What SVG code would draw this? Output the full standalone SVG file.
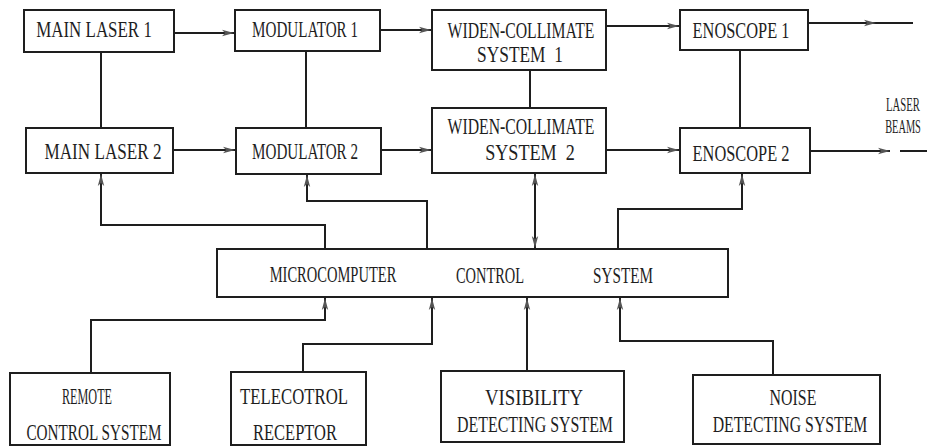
<svg xmlns="http://www.w3.org/2000/svg" width="938" height="447" viewBox="0 0 938 447">
<style>
.box{fill:#fff;stroke:#1e1e1e;stroke-width:2}
.c{fill:none;stroke:#1e1e1e;stroke-width:2}
text{font-family:"Liberation Serif","DejaVu Serif",serif;font-size:24px;fill:#1e1e1e;text-anchor:middle}
.s{font-size:18px}
</style>
<defs>
<marker id="ah" viewBox="0 0 12 8" refX="12" refY="4" markerWidth="12" markerHeight="8" markerUnits="userSpaceOnUse" orient="auto-start-reverse">
<path d="M0,0.8 L12,4 L0,7.2 L3,4z" fill="#555"/>
</marker>
</defs>
<rect width="938" height="447" fill="#fff"/>

<g id="connectors">
<path class="c" d="M174,33 H234" marker-end="url(#ah)"/>
<path class="c" d="M380,30 H431" marker-end="url(#ah)"/>
<path class="c" d="M606,26 H679" marker-end="url(#ah)"/>
<path class="c" d="M808,23 H876 H913" marker-mid="url(#ah)"/>
<path class="c" d="M173,150 H235" marker-end="url(#ah)"/>
<path class="c" d="M381,150 H431" marker-end="url(#ah)"/>
<path class="c" d="M606,150 H679" marker-end="url(#ah)"/>
<path class="c" d="M810,151 H890" marker-end="url(#ah)"/>
<path class="c" d="M900,151 H927"/>
<path class="c" d="M101,52 V128"/>
<path class="c" d="M306,51 V128"/>
<path class="c" d="M530,70 V108"/>
<path class="c" d="M740,50 V128"/>
<path class="c" d="M325,249 V225 H101 V174" marker-end="url(#ah)"/>
<path class="c" d="M427,249 V201 H307 V175" marker-end="url(#ah)"/>
<path class="c" d="M535,248 V174" marker-start="url(#ah)" marker-end="url(#ah)"/>
<path class="c" d="M618,249 V209 H742 V174" marker-end="url(#ah)"/>
<path class="c" d="M91,373 V320 H325 V298" marker-end="url(#ah)"/>
<path class="c" d="M303,372 V344 H432 V298" marker-end="url(#ah)"/>
<path class="c" d="M527,371 V298" marker-end="url(#ah)"/>
<path class="c" d="M773,375 V341 H620 V298" marker-end="url(#ah)"/>
</g>

<g id="main-laser-1"><rect class="box" x="24" y="10" width="150" height="42"/><text transform="translate(94,37) scale(0.65,1)" textLength="178" lengthAdjust="spacingAndGlyphs">MAIN LASER 1</text></g>
<g id="modulator-1"><rect class="box" x="235" y="10" width="145" height="41"/><text transform="translate(305,37) scale(0.65,1)" textLength="163" lengthAdjust="spacingAndGlyphs">MODULATOR 1</text></g>
<g id="widen-collimate-1"><rect class="box" x="432" y="10" width="174" height="60"/><text transform="translate(521,38) scale(0.65,1)" textLength="226" lengthAdjust="spacingAndGlyphs">WIDEN-COLLIMATE</text><text transform="translate(520,62) scale(0.65,1)" textLength="132" lengthAdjust="spacingAndGlyphs" xml:space="preserve">SYSTEM  1</text></g>
<g id="enoscope-1"><rect class="box" x="680" y="10" width="128" height="40"/><text transform="translate(741,38) scale(0.65,1)" textLength="149" lengthAdjust="spacingAndGlyphs">ENOSCOPE 1</text></g>

<g id="main-laser-2"><rect class="box" x="26" y="128" width="147" height="45"/><text transform="translate(103,159) scale(0.65,1)" textLength="180" lengthAdjust="spacingAndGlyphs">MAIN LASER 2</text></g>
<g id="modulator-2"><rect class="box" x="236" y="128" width="145" height="46"/><text transform="translate(305,159) scale(0.65,1)" textLength="163" lengthAdjust="spacingAndGlyphs">MODULATOR 2</text></g>
<g id="widen-collimate-2"><rect class="box" x="432" y="108" width="174" height="65"/><text transform="translate(521,134) scale(0.65,1)" textLength="226" lengthAdjust="spacingAndGlyphs">WIDEN-COLLIMATE</text><text transform="translate(530,160) scale(0.65,1)" textLength="138" lengthAdjust="spacingAndGlyphs" xml:space="preserve">SYSTEM  2</text></g>
<g id="enoscope-2"><rect class="box" x="680" y="128" width="130" height="45"/><text transform="translate(741,161) scale(0.65,1)" textLength="149" lengthAdjust="spacingAndGlyphs">ENOSCOPE 2</text></g>

<g id="laser-beams-label"><text class="s" transform="translate(903,111) scale(0.65,1)" textLength="52" lengthAdjust="spacingAndGlyphs">LASER</text><text class="s" transform="translate(903,133) scale(0.65,1)" textLength="55" lengthAdjust="spacingAndGlyphs">BEAMS</text></g>

<g id="microcomputer-control-system"><rect class="box" x="217" y="249" width="511" height="48"/><text transform="translate(333,282) scale(0.65,1)" textLength="195" lengthAdjust="spacingAndGlyphs">MICROCOMPUTER</text><text transform="translate(490,283) scale(0.65,1)" textLength="105" lengthAdjust="spacingAndGlyphs">CONTROL</text><text transform="translate(623,283) scale(0.65,1)" textLength="92" lengthAdjust="spacingAndGlyphs">SYSTEM</text></g>

<g id="remote-control-system"><rect class="box" x="10" y="373" width="160" height="72"/><text transform="translate(87,404) scale(0.65,1)" textLength="77" lengthAdjust="spacingAndGlyphs">REMOTE</text><text transform="translate(94,440) scale(0.65,1)" textLength="208" lengthAdjust="spacingAndGlyphs">CONTROL SYSTEM</text></g>
<g id="telecotrol-receptor"><rect class="box" x="231" y="372" width="135" height="73"/><text transform="translate(294,404) scale(0.65,1)" textLength="166" lengthAdjust="spacingAndGlyphs">TELECOTROL</text><text transform="translate(295,440) scale(0.65,1)" textLength="129" lengthAdjust="spacingAndGlyphs">RECEPTOR</text></g>
<g id="visibility-detecting-system"><rect class="box" x="441" y="371" width="183" height="71"/><text transform="translate(534,405) scale(0.65,1)" textLength="151" lengthAdjust="spacingAndGlyphs">VISIBILITY</text><text transform="translate(535,432) scale(0.65,1)" textLength="240" lengthAdjust="spacingAndGlyphs">DETECTING SYSTEM</text></g>
<g id="noise-detecting-system"><rect class="box" x="693" y="375" width="187" height="69"/><text transform="translate(793,405) scale(0.65,1)" textLength="72" lengthAdjust="spacingAndGlyphs">NOISE</text><text transform="translate(790,432) scale(0.65,1)" textLength="238" lengthAdjust="spacingAndGlyphs">DETECTING SYSTEM</text></g>
</svg>
